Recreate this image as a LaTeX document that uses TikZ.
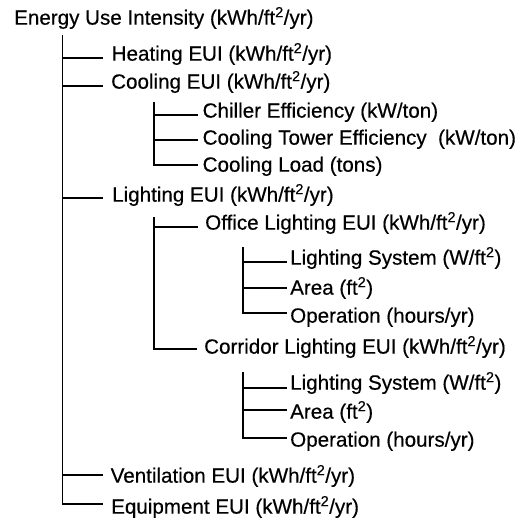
\documentclass[tikz,border=0pt]{standalone}
\usepackage{fontspec}
\setmainfont{Liberation Sans}
\newfontfamily\thickfont{Liberation Sans}[FakeBold=0.4]
\newcommand{\sq}{\textsuperscript{2}}
\begin{document}
\begin{tikzpicture}[x=1pt,y=-1pt,
  txt/.style={anchor=mid west, inner sep=0pt, font=\thickfont\fontsize{20.6}{24}\selectfont},
  conn/.style={line width=1.5pt, line cap=butt, line join=miter}]
\useasboundingbox (0,0) rectangle (522,523);
% texts
\node[txt] (root) at (14,22) {Energy Use Intensity (kWh/ft\sq/yr)};
\node[txt] (heat) at (111.5,58) {Heating EUI (kWh/ft\sq/yr)};
\node[txt] (cool) at (111,86) {Cooling EUI (kWh/ft\sq/yr)};
\node[txt] (chil) at (202.5,115) {Chiller Efficiency (kW/ton)};
\node[txt] (ctow) at (202.5,142) {Cooling Tower Efficiency\ \ (kW/ton)};
\node[txt] (cload) at (202.5,169) {Cooling Load (tons)};
\node[txt] (light) at (112,199) {Lighting EUI (kWh/ft\sq/yr)};
\node[txt] (off) at (205,227) {Office Lighting EUI (kWh/ft\sq/yr)};
\node[txt] (ols) at (290,262) {Lighting System (W/ft\sq)};
\node[txt] (oarea) at (290,292) {Area (ft\sq)};
\node[txt] (oop) at (290,320) {Operation (hours/yr)};
\node[txt] (cor) at (204,351) {Corridor Lighting EUI (kWh/ft\sq/yr)};
\node[txt] (cls) at (290,387) {Lighting System (W/ft\sq)};
\node[txt] (carea) at (290,416) {Area (ft\sq)};
\node[txt] (cop) at (290,444) {Operation (hours/yr)};
\node[txt] (vent) at (110.5,480) {Ventilation EUI (kWh/ft\sq/yr)};
\node[txt] (equip) at (111,511) {Equipment EUI (kWh/ft\sq/yr)};
% vertical tops
\coordinate (v0) at (62.5,35);
\coordinate (v1) at (154,102);
\coordinate (v2) at (154,217);
\coordinate (v3) at (243,247);
\coordinate (v4) at (243,372);
% level 1
\draw[conn] (v0) |- ([xshift=-8.5pt,yshift=7pt]equip.mid west);
\draw[conn] (v0 |- heat.mid west) -- ([xshift=-8.5pt]heat.mid west);
\draw[conn] (v0 |- cool.mid west) -- ([xshift=-8pt]cool.mid west);
\draw[conn] ([yshift=1pt]v0 |- light.mid west) -- ([xshift=-9pt,yshift=1pt]light.mid west);
\draw[conn] ([yshift=5pt]v0 |- vent.mid west) -- ([xshift=-7.5pt,yshift=5pt]vent.mid west);
% cooling
\draw[conn] (v1) |- ([xshift=-4.5pt,yshift=4pt]cload.mid west);
\draw[conn] (v1 |- chil.mid west) -- ([xshift=-4.5pt]chil.mid west);
\draw[conn] ([yshift=2pt]v1 |- ctow.mid west) -- ([xshift=-4.5pt,yshift=2pt]ctow.mid west);
% lighting
\draw[conn] (v2) |- ([xshift=-7pt,yshift=2pt]cor.mid west);
\draw[conn] (v2 |- off.mid west) -- ([xshift=-7pt]off.mid west);
% office
\draw[conn] (v3) |- ([xshift=-3.5pt,yshift=7pt]oop.mid west);
\draw[conn] (v3 |- ols.mid west) -- ([xshift=-3.5pt]ols.mid west);
\draw[conn] ([yshift=4pt]v3 |- oarea.mid west) -- ([xshift=-3.5pt,yshift=4pt]oarea.mid west);
% corridor
\draw[conn] (v4) |- ([xshift=-3.5pt,yshift=6pt]cop.mid west);
\draw[conn] ([yshift=-1pt]v4 |- cls.mid west) -- ([xshift=-3.5pt,yshift=-1pt]cls.mid west);
\draw[conn] ([yshift=6pt]v4 |- carea.mid west) -- ([xshift=-3.5pt,yshift=6pt]carea.mid west);
\end{tikzpicture}
\end{document}
